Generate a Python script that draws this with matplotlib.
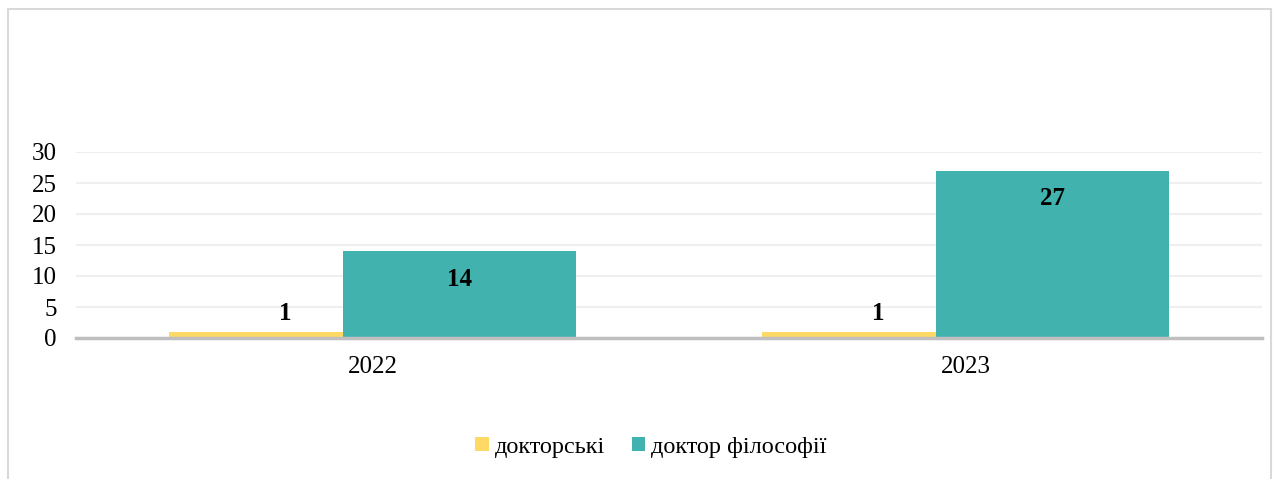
import matplotlib
matplotlib.use("Agg")
import matplotlib.pyplot as plt
from matplotlib.patches import Rectangle
import numpy as np

categories = ["2022", "2023"]
series_names = ["докторські", "доктор філософії"]
doctoral = [1, 1]
phd = [14, 27]
yticks = [0, 5, 10, 15, 20, 25, 30]

colors = ["#FFD966", "#41B2AE"]

plt.rcParams['font.family'] = ['Liberation Serif', 'DejaVu Serif']

W, H = 1274, 479
fig = plt.figure(figsize=(W / 100, H / 100), dpi=100)

# outer chart border
fig.patches.append(Rectangle((8 / W, -0.05), (1271 - 8) / W, 1 - 9 / H + 0.05,
                             transform=fig.transFigure, fill=False,
                             edgecolor="#d9d9d9", linewidth=1.5))

ax = fig.add_axes([76 / W, 1 - 338 / H, (1262 - 76) / W, (338 - 152) / H])

x = np.arange(len(categories))
width = 0.393
off = 0.147
b1 = ax.bar(x - off, doctoral, width, color=colors[0], label=series_names[0], zorder=2)
b2 = ax.bar(x + off, phd, width, color=colors[1], label=series_names[1], zorder=3)

for rect, v in zip(b1, doctoral):
    ax.annotate(str(v), (rect.get_x() + rect.get_width() / 2, v),
                xytext=(0, 5), textcoords="offset points", ha="center", va="bottom",
                fontsize=18, fontweight="bold")
for rect, v in zip(b2, phd):
    ax.annotate(str(v), (rect.get_x() + rect.get_width() / 2, v),
                xytext=(0, -12), textcoords="offset points", ha="center", va="top",
                fontsize=18, fontweight="bold")

ax.set_xlim(-0.5, 1.5)
ax.set_ylim(0, 30)
ax.set_yticks(yticks)
ax.set_xticks(x)
ax.set_xticklabels(categories)
ax.tick_params(axis="both", length=0, labelsize=18)
ax.tick_params(axis="y", pad=14)
ax.tick_params(axis="x", pad=13)
ax.yaxis.grid(True, color="#efefef", linewidth=1.5, zorder=0)
ax.set_axisbelow(True)
for s in ["top", "right", "left"]:
    ax.spines[s].set_visible(False)
ax.spines["bottom"].set_color("#bfbfbf")
ax.spines["bottom"].set_linewidth(2.5)
ax.spines["bottom"].set_zorder(4)

fig.legend(handles=[b1, b2], labels=series_names, loc="center",
           bbox_to_anchor=(651 / W, 1 - 447 / H), ncol=2, frameon=False,
           fontsize=17.5, handlelength=0.55, handleheight=0.55, handletextpad=0.25,
           columnspacing=1.1)

fig.savefig("out.png", dpi=100)
